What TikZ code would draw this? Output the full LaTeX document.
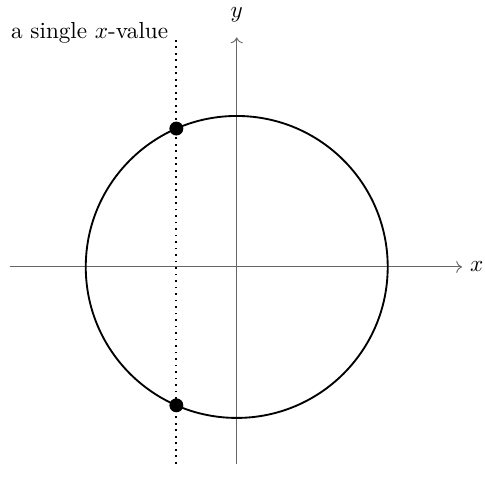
\documentclass[tikz,border=0pt]{standalone}
\usetikzlibrary{arrows.meta}

\begin{document}
\begin{tikzpicture}[scale=0.915]
    \useasboundingbox (-3.92, -3.71) rectangle (4.11, 4.42);
    \tikzset{axis/.style={draw=black!60, ->}, dot/.style={circle, fill=black, inner sep=0pt, minimum size=6pt}}
    \coordinate (o) at (0, 0);
    \coordinate (xl) at (-3.76, 0);
    \coordinate (xr) at (3.73, 0);
    \coordinate (yb) at (0, -3.26);
    \coordinate (yt) at (0, 3.8);
    \coordinate (vb) at (-1, -3.26);
    \coordinate (vt) at (-1, 3.76);
    \node[right] (xlab) at (xr) {$x$};
    \node (ylab) at (0, 4.17) {$y$};
    \node[left] (lab) at (-1, 3.87) {a single $x$-value};
    \draw[axis] (xl) -- (xr);
    \draw[axis] (yb) -- (yt);
    \draw[thick] (o) circle (2.5);
    \draw[thick, dotted] (vb) -- (vt);
    \node[dot] (p) at (-1, {sqrt(5.25)}) {};
    \node[dot] (q) at (-1, {-sqrt(5.25)}) {};
\end{tikzpicture}
\end{document}
